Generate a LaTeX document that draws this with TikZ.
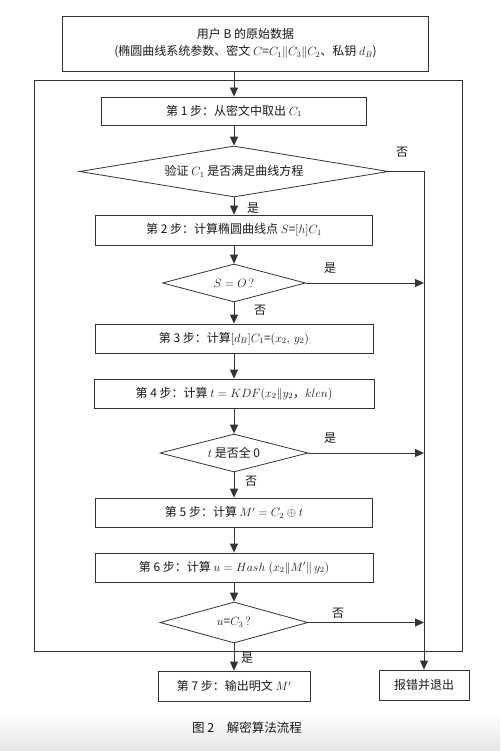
\documentclass[tikz,border=0pt]{standalone}
\usepackage{fontspec}
\setmainfont{Noto Sans CJK SC}
\usetikzlibrary{shapes.geometric,arrows.meta}
\begin{document}
\begin{tikzpicture}[x=1pt,y=-1pt,
  every node/.style={font=\fontsize{12}{14}\selectfont, text=black!90},
  box/.style={draw=black!80, line width=0.8pt, inner sep=0pt, rectangle},
  dia/.style={draw=black!80, line width=0.8pt, inner sep=0pt, diamond, shape aspect=5},
  lbl/.style={inner sep=0pt},
  arr/.style={draw=black!80, line width=0.8pt, -{Triangle[length=9pt,width=8pt]}},
  ln/.style={draw=black!80, line width=0.8pt}]
\useasboundingbox (0,0) rectangle (500,751);
\shade[top color=white, bottom color=black!10] (0,712) rectangle (500,751);
% outer frame
\draw[ln] (34,80) rectangle (462,651);
% nodes
\node[box, minimum width=366pt, minimum height=55pt, align=center] (top) at (245.5,43.5)
  {用户 B 的原始数据\\[3pt](椭圆曲线系统参数、密文 $C$=$C_1\|C_3\|C_2$、私钥 $d_B$)};
\node[box, minimum width=265pt, minimum height=28pt] (s1) at (234,111) {第 1 步：从密文中取出 $C_1$};
\node[dia, minimum width=309pt, minimum height=51pt] (d1) at (234,171.5) {验证 $C_1$ 是否满足曲线方程};
\node[box, minimum width=277pt, minimum height=30pt] (s2) at (234,230) {第 2 步：计算椭圆曲线点 $S$=$[h]C_1$};
\node[dia, minimum width=143pt, minimum height=38pt] (d2) at (234,283) {$S=O\,?$};
\node[box, minimum width=278pt, minimum height=29pt] (s3) at (234,338.5) {第 3 步：计算$[d_B]C_1$=$(x_2,\,y_2)$};
\node[box, minimum width=280pt, minimum height=29pt] (s4) at (234,393.5) {第 4 步：计算 $t=KDF(x_2\|y_2$，$klen)$};
\node[dia, minimum width=148pt, minimum height=38pt] (d3) at (234,453) {$t$ 是否全 0};
\node[box, minimum width=277pt, minimum height=29pt] (s5) at (234,512.5) {第 5 步：计算 $M'=C_2\oplus t$};
\node[box, minimum width=278pt, minimum height=29pt] (s6) at (234,567.5) {第 6 步：计算 $u=Hash\;(x_2\|M'\|\,y_2)$};
\node[dia, minimum width=148pt, minimum height=41pt] (d4) at (234,622.5) {$u$=$C_3\,?$};
\node[box, minimum width=152pt, minimum height=30pt] (s7) at (234,686) {第 7 步：输出明文 $M'$};
\node[box, minimum width=90pt, minimum height=30pt] (err) at (424,685) {报错并退出};
\node[font=\fontsize{12.5}{14}\selectfont] (cap) at (247,728) {图 2\quad 解密算法流程};
% axis coordinates
\coordinate (ax) at (234,0);
\coordinate (rl) at (424,0);
% main flow
\draw[arr] (top.south -| ax) -- (s1.north);
\draw[arr] (s1) -- (d1);
\draw[arr] (d1) -- (s2);
\draw[arr] (s2) -- (d2);
\draw[arr] (d2) -- (s3);
\draw[arr] (s3) -- (s4);
\draw[arr] (s4) -- (d3);
\draw[arr] (d3) -- (s5);
\draw[arr] (s5) -- (s6);
\draw[arr] (s6) -- (d4);
\draw[arr] (d4) -- (s7);
% right branch
\draw[arr] (d1.east) -- (d1.east -| rl) -- (err.north);
\draw[arr] (d2.east) -- (d2.east -| rl);
\draw[arr] (d3.east) -- (d3.east -| rl);
\draw[arr] (d4.east) -- (d4.east -| rl);
% labels
\node[lbl] (l1) at (402,152) {否};
\node[lbl] (l2) at (253,208) {是};
\node[lbl] (l3) at (330,268) {是};
\node[lbl] (l4) at (260,310) {否};
\node[lbl] (l5) at (330,438) {是};
\node[lbl] (l6) at (251,481) {否};
\node[lbl] (l7) at (338,613) {否};
\node[lbl] (l8) at (247,658) {是};
\end{tikzpicture}
\end{document}
